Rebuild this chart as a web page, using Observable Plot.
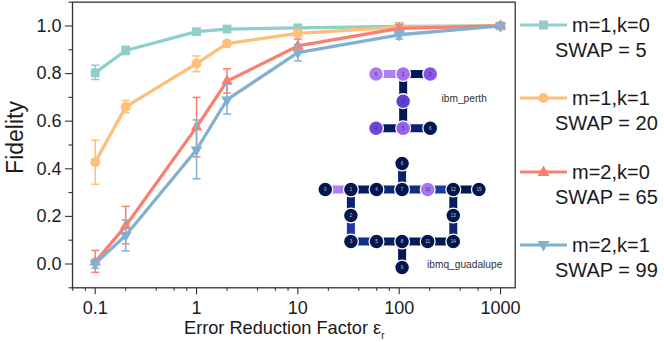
<!DOCTYPE html>
<html>
<head>
<meta charset="utf-8">
<script src="https://cdn.jsdelivr.net/npm/d3@7"></script>
<script src="https://cdn.jsdelivr.net/npm/@observablehq/plot@0.6"></script>
<style>
  html, body { margin: 0; padding: 0; background: #fff; }
  #stage { position: relative; width: 664px; height: 342px; overflow: hidden; font-family: "Liberation Sans", Arial, sans-serif; color: #1a1a1a; }
  #stage > svg, .overlay { position: absolute; }
  .abs { position: absolute; white-space: nowrap; }
  .swatch { position: absolute; }
</style>
</head>
<body>
<div id="stage"></div>
<script>
// ---- data ----
const factors = [0.1, 0.2, 1, 2, 10, 100, 1000];
const seriesNames = ["m=1,k=0", "m=1,k=1", "m=2,k=0", "m=2,k=1"];
const swapCounts = [5, 20, 65, 99];
const seriesColors = ["#8ECFC9", "#FFBE7A", "#FA7F6F", "#82B0D2"];

const fidM1K0 = [0.803, 0.897, 0.976, 0.987, 0.992, 0.998, 1.0];
const lowM1K0 = [0.775, 0.880, 0.965, 0.978, 0.982, 0.993, 1.0];
const highM1K0 = [0.835, 0.915, 0.986, 0.995, 1.0, 1.0, 1.0];

const fidM1K1 = [0.428, 0.660, 0.842, 0.926, 0.969, 0.995, 1.0];
const lowM1K1 = [0.335, 0.635, 0.808, 0.912, 0.958, 0.988, 1.0];
const highM1K1 = [0.520, 0.687, 0.874, 0.938, 0.980, 1.0, 1.0];

const fidM2K0 = [0.008, 0.160, 0.575, 0.768, 0.916, 0.990, 1.0];
const lowM2K0 = [-0.035, 0.085, 0.450, 0.718, 0.893, 0.975, 1.0];
const highM2K0 = [0.057, 0.242, 0.700, 0.820, 0.945, 1.005, 1.005];

const fidM2K1 = [0.002, 0.120, 0.480, 0.690, 0.888, 0.963, 1.0];
const lowM2K1 = [-0.018, 0.055, 0.358, 0.630, 0.853, 0.945, 0.99];
const highM2K1 = [0.020, 0.185, 0.605, 0.755, 0.922, 0.980, 1.01];

const xMajor = [0.1, 1, 10, 100, 1000];
const xMinor = [0.06, 0.08, 0.2, 0.4, 0.6, 0.8, 2, 4, 6, 8, 20, 40, 60, 80, 200, 400, 600, 800];
const yMajor = [0, 0.2, 0.4, 0.6, 0.8, 1.0];
const yMinor = [-0.1, 0.1, 0.3, 0.5, 0.7, 0.9, 1.1];

// qubit layouts: [qubit, column, row, error level]
const perthNodes = [[0,0,0,.97],[1,1,0,.92],[2,2,0,.78],[3,1,1,.6],[4,0,2,.68],[5,1,2,.85],[6,2,2,0]];
const perthLinks = [[0,1,1],[1,2,.02],[1,3,.02],[3,5,.02],[4,5,.05],[5,6,.12]];
const guadalupeNodes = [[0,0,1,0],[1,1,1,0],[4,2,1,0],[7,3,1,0],[10,4,1,.95],[12,5,1,0],[15,6,1,0],[6,3,0,0],[2,1,2,0],[13,5,2,0],[3,1,3,0],[5,2,3,0],[8,3,3,0],[11,4,3,0],[14,5,3,0],[9,3,4,0]];
const guadalupeLinks = [[0,1,1],[1,4,.06],[4,7,.15],[7,10,.22],[10,12,.35],[12,15,0],[1,2,.12],[2,3,.33],[3,5,.24],[5,8,.08],[8,11,.05],[11,14,0],[12,13,.05],[13,14,.14],[6,7,.12],[8,9,.02]];

// ---- main chart ----
const table = (fid, low, high) => factors.map((x, i) => ({x, y: fid[i], low: low[i], high: high[i]}));
const series = [
  table(fidM1K0, lowM1K0, highM1K0),
  table(fidM1K1, lowM1K1, highM1K1),
  table(fidM2K0, lowM2K0, highM2K0),
  table(fidM2K1, lowM2K1, highM2K1)
];
const symbols = [
  {symbol: "square", r: 5},
  {symbol: "circle", r: 5},
  {symbol: "triangle", r: 4.3},
  {symbol: "triangle", r: 4.3, rotate: 180}
];
const capSymbol = {draw(ctx, size) { const r = Math.sqrt(size / Math.PI); ctx.moveTo(-r, 0); ctx.lineTo(r, 0); }};

const ink = "#333";
const chart = Plot.plot({
  width: 664, height: 342,
  marginLeft: 72, marginRight: 149.3, marginTop: 1.65, marginBottom: 54.7,
  style: {background: "transparent", fontFamily: "'Liberation Sans', Arial, sans-serif", color: "#1a1a1a"},
  x: {type: "log", domain: [0.0597, 1396]},
  y: {domain: [-0.1, 1.1]},
  marks: [
    series.flatMap((rows, i) => {
      const c = seriesColors[i];
      return [
        Plot.line(rows, {x: "x", y: "y", stroke: c, strokeWidth: 3.3, curve: "linear"}),
        Plot.link(rows, {x1: "x", x2: "x", y1: "low", y2: "high", stroke: c, strokeWidth: 1.5}),
        Plot.dot(rows, {x: "x", y: "low", symbol: capSymbol, r: 4, stroke: c, strokeWidth: 1.5}),
        Plot.dot(rows, {x: "x", y: "high", symbol: capSymbol, r: 4, stroke: c, strokeWidth: 1.5}),
        Plot.dot(rows, {x: "x", y: "y", fill: c, stroke: "none", ...symbols[i]})
      ];
    }),
    Plot.frame({stroke: ink, strokeWidth: 1.3}),
    Plot.axisX({ticks: xMajor, tickSize: 7, tickPadding: 6.5, tickFormat: d => String(d), fontSize: 18, label: null, stroke: ink, strokeWidth: 1.1}),
    Plot.axisX({ticks: xMinor, tickSize: 3.5, tickFormat: () => "", label: null, stroke: ink, strokeWidth: 1.1}),
    Plot.axisY({ticks: yMajor, tickSize: 7, tickPadding: 4, tickFormat: d3.format(".1f"), fontSize: 18, label: null, stroke: ink, strokeWidth: 1.1}),
    Plot.axisY({ticks: yMinor, tickSize: 3.5, tickFormat: () => "", label: null, stroke: ink, strokeWidth: 1.1}),
    Plot.text(["Fidelity"], {frameAnchor: "left", textAnchor: "middle", rotate: -90, dx: -57, dy: -7.5, fontSize: 23, fill: "#1a1a1a"})
  ]
});
const stage = document.getElementById("stage");
stage.appendChild(chart);

// ---- x-axis title (needs a real subscript) ----
const xt = document.createElement("div");
xt.className = "abs";
xt.style.cssText = "left:184px;top:318px;font-size:18.2px;line-height:20px;";
xt.innerHTML = 'Error Reduction Factor ε<sub style="font-size:10px;line-height:0;">r</sub>';
stage.appendChild(xt);

// ---- device layouts ----
function topology(nodes, links, left, top, pitchX, pitchY, cols, rows) {
  const N = nodes.map(([id, col, row, level]) => ({id, col, row, level}));
  const at = Object.fromEntries(N.map(n => [n.id, n]));
  const L = links.map(([a, b, level]) => ({x1: at[a].col, y1: at[a].row, x2: at[b].col, y2: at[b].row, level}));
  const p = Plot.plot({
    width: pitchX * cols, height: pitchY * rows,
    margin: 0,
    style: {background: "transparent", fontFamily: "'Liberation Sans', Arial, sans-serif"},
    x: {domain: [-0.5, cols - 0.5], axis: null},
    y: {domain: [-0.5, rows - 0.5], reverse: true, axis: null},
    color: {type: "linear", domain: [0, 0.35, 0.7, 1], range: ["#03174f", "#1a3aa8", "#7a42e6", "#ae80f8"]},
    marks: [
      Plot.link(L, {x1: "x1", y1: "y1", x2: "x2", y2: "y2", stroke: "level", strokeWidth: 8}),
      Plot.dot(N, {x: "col", y: "row", r: 7.4, fill: "level", stroke: "#fff", strokeWidth: 1.3}),
      Plot.text(N, {x: "col", y: "row", text: "id", fontSize: 4.5, fill: d => d.level > 0.4 ? "#333" : "#c9cbd8"})
    ]
  });
  p.classList.add("overlay");
  p.style.left = left + "px";
  p.style.top = top + "px";
  stage.appendChild(p);
}
topology(perthNodes, perthLinks, 362, 60, 27.1, 27.1, 3, 3);
topology(guadalupeNodes, guadalupeLinks, 312.2, 149.7, 25.6, 26, 7, 5);

function caption(text, left, top) {
  const d = document.createElement("div");
  d.className = "abs";
  d.textContent = text;
  d.style.cssText = `left:${left}px;top:${top}px;font-size:10.2px;line-height:12px;color:#333;`;
  stage.appendChild(d);
}
caption("ibm_perth", 441.5, 93);
caption("ibmq_guadalupe", 427, 259);

// ---- legend ----
const legendY = [25, 98, 172, 245];
const swatchMark = [
  '<rect x="23" y="5.5" width="9" height="9"/>',
  '<circle cx="27.5" cy="10" r="5"/>',
  '<path d="M27.5 3.5 L33.5 14 L21.5 14 Z"/>',
  '<path d="M27.5 16.5 L33.5 6 L21.5 6 Z"/>'
];
seriesNames.forEach((name, i) => {
  const y = legendY[i];
  const s = document.createElementNS("http://www.w3.org/2000/svg", "svg");
  s.setAttribute("class", "swatch");
  s.setAttribute("width", 56); s.setAttribute("height", 20);
  s.style.left = "516px"; s.style.top = (y - 10) + "px";
  s.innerHTML = `<g fill="${seriesColors[i]}"><rect x="4" y="8.5" width="47" height="3"/>${swatchMark[i]}</g>`;
  stage.appendChild(s);
  const a = document.createElement("div");
  a.className = "abs";
  a.textContent = name;
  a.style.cssText = `left:572px;top:${y - 12}px;font-size:20px;line-height:24px;`;
  stage.appendChild(a);
  const b = document.createElement("div");
  b.className = "abs";
  b.textContent = "SWAP = " + swapCounts[i];
  b.style.cssText = `left:555px;top:${y + 13}px;font-size:20px;line-height:24px;`;
  stage.appendChild(b);
});
</script>
</body>
</html>
